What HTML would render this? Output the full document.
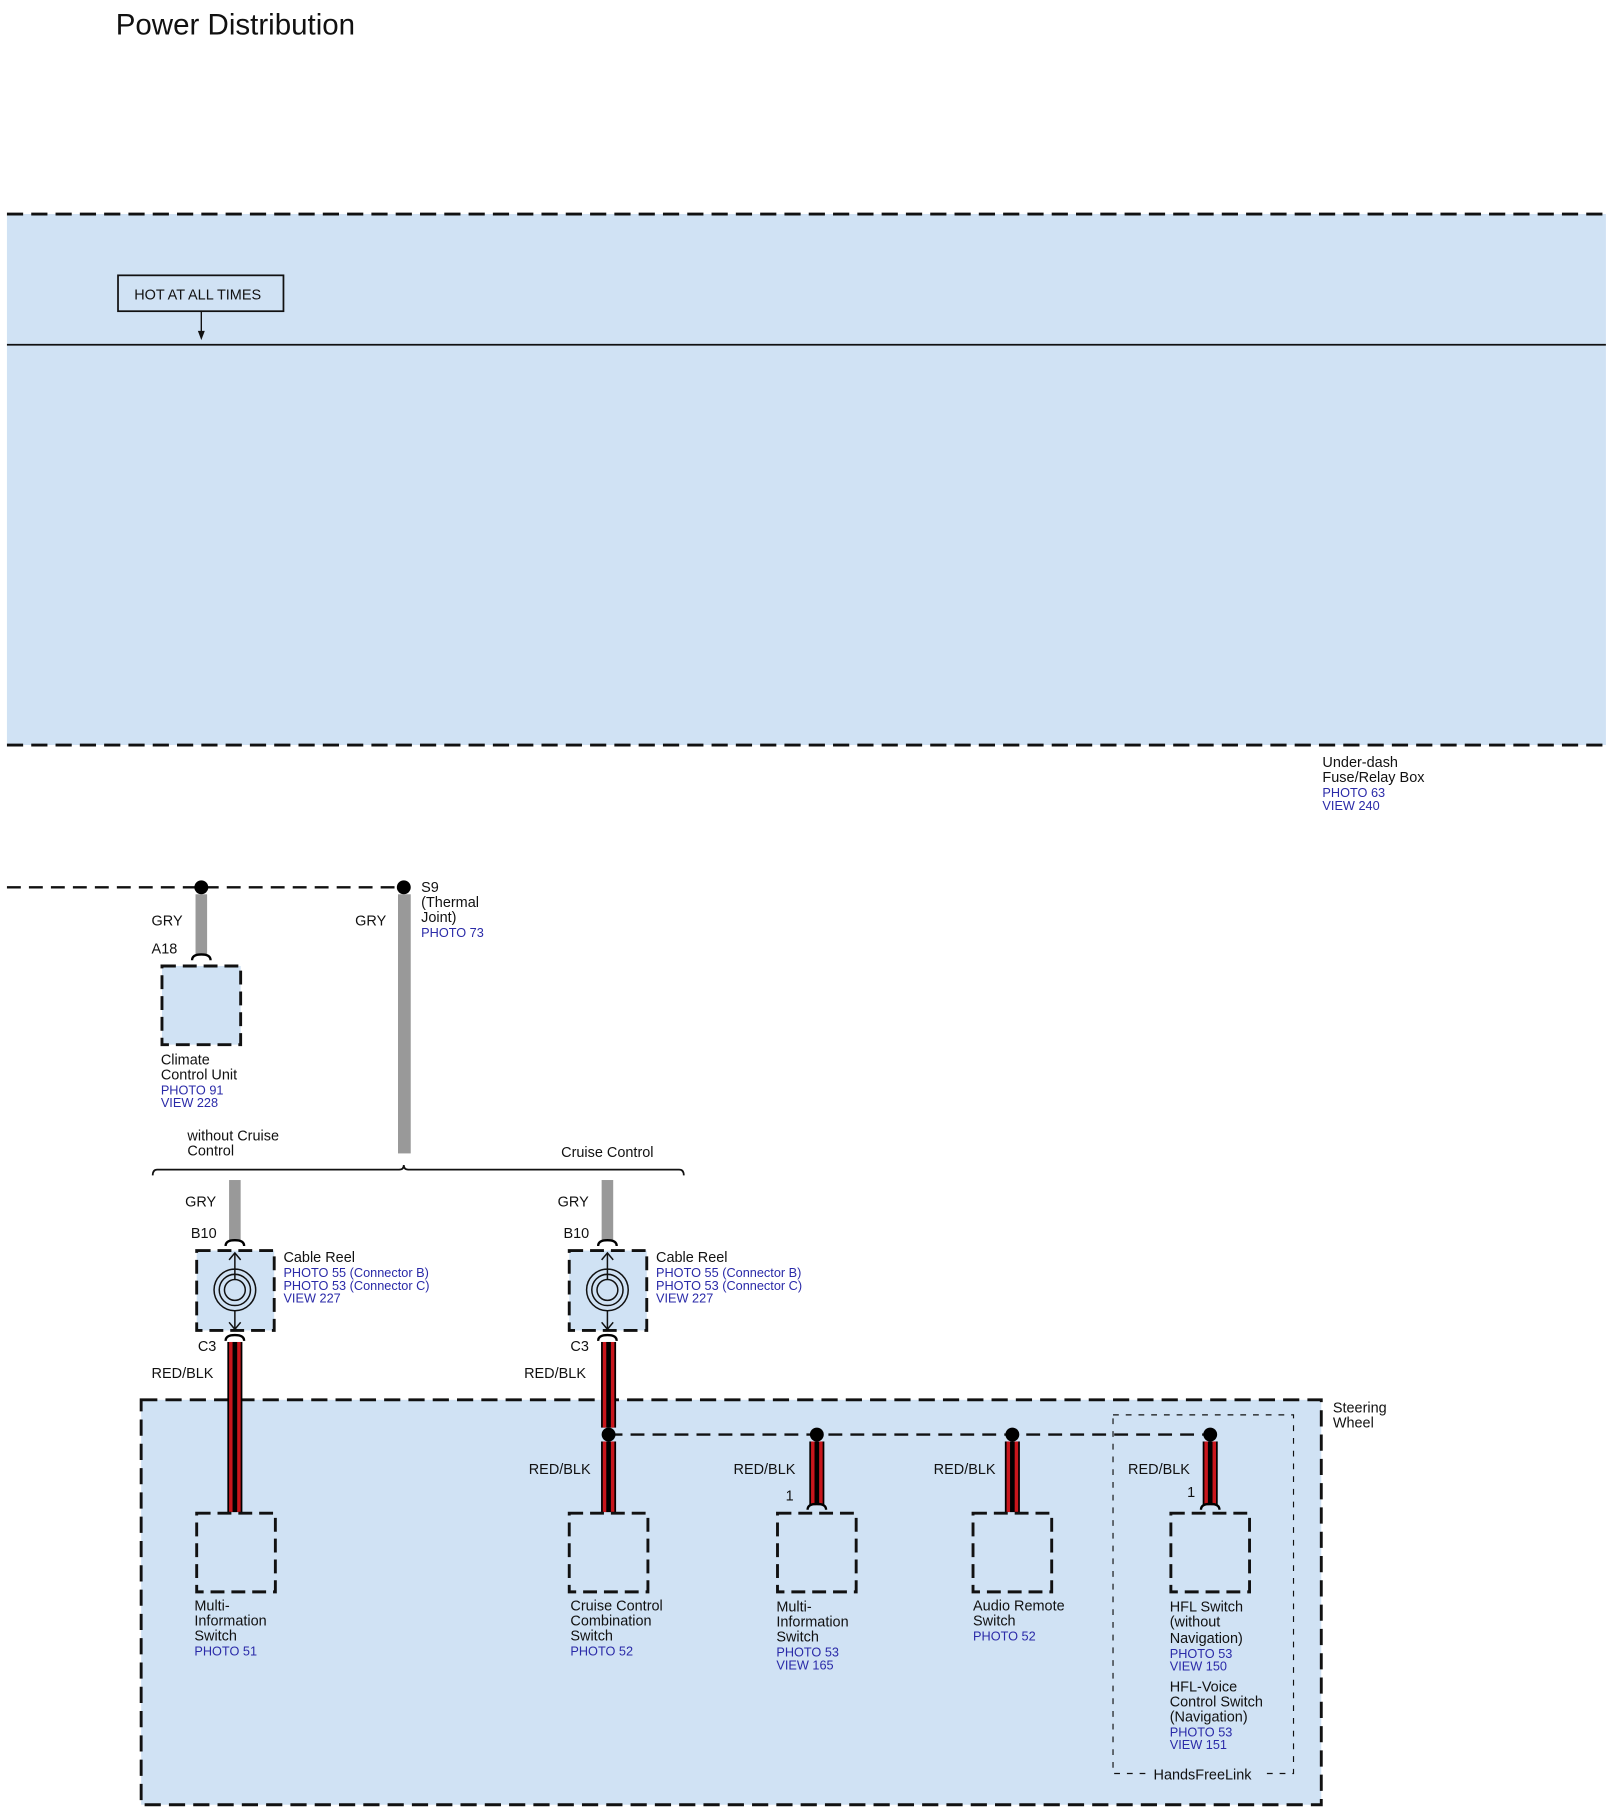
<!DOCTYPE html>
<html><head><meta charset="utf-8"><style>
html,body{margin:0;padding:0;background:#fff;}
svg{display:block;}
text{font-family:"Liberation Sans",sans-serif;font-size:12.5px;fill:#111;}
.b{fill:#2a2aa8;font-size:11px;}
</style></head><body>
<svg width="1614" height="1814" viewBox="0 0 1395 1568" preserveAspectRatio="none" xmlns="http://www.w3.org/2000/svg">
<text x="100" y="30" style="font-size:25.5px">Power Distribution</text>

<rect x="6" y="185" width="1382" height="459" fill="#d0e2f4"/>
<line x1="6" y1="185" x2="1388" y2="185" stroke="#111" stroke-width="2.5" stroke-dasharray="14 7"/>
<line x1="6" y1="644" x2="1388" y2="644" stroke="#111" stroke-width="2.5" stroke-dasharray="14 7"/>
<line x1="6" y1="298" x2="1388" y2="298" stroke="#111" stroke-width="1.5"/>
<rect x="102" y="238" width="143" height="31" fill="#d0e2f4" stroke="#111" stroke-width="1.5"/>
<text x="116" y="259">HOT AT ALL TIMES</text>
<line x1="174" y1="269" x2="174" y2="288" stroke="#111" stroke-width="1.2"/>
<polygon points="171,286 177,286 174,294" fill="#111"/>
<text x="1143" y="663">Under-dash</text>
<text x="1143" y="676">Fuse/Relay Box</text>
<text class="b" x="1143" y="689">PHOTO 63</text>
<text class="b" x="1143" y="700">VIEW 240</text>

<line x1="6" y1="767" x2="349" y2="767" stroke="#111" stroke-width="2" stroke-dasharray="12 7"/>
<rect x="169" y="773" width="10" height="53" fill="#999"/>
<rect x="344" y="773" width="11" height="224" fill="#999"/>
<circle cx="174" cy="767" r="6" fill="#000"/>
<circle cx="349" cy="767" r="6" fill="#000"/>
<text x="131" y="800">GRY</text>
<text x="307" y="800">GRY</text>
<text x="131" y="824">A18</text>
<text x="364" y="771">S9</text>
<text x="364" y="784">(Thermal</text>
<text x="364" y="797">Joint)</text>
<text class="b" x="364" y="810">PHOTO 73</text>
<path d="M166,830 Q166,825 174,825 Q182,825 182,830" fill="none" stroke="#000" stroke-width="2"/>
<rect x="140" y="835" width="68" height="68" fill="#d0e2f4" stroke="#111" stroke-width="2.5" stroke-dasharray="12 6"/>
<text x="139" y="920">Climate</text>
<text x="139" y="933">Control Unit</text>
<text class="b" x="139" y="946">PHOTO 91</text>
<text class="b" x="139" y="957">VIEW 228</text>

<path d="M132,1016 Q132,1011 136,1011 L345,1011 Q349,1011 349,1007 Q349,1011 353,1011 L587,1011 Q591,1011 591,1016" fill="none" stroke="#111" stroke-width="1.5"/>
<text x="162" y="986">without Cruise</text>
<text x="162" y="999">Control</text>
<text x="485" y="1000">Cruise Control</text>

<g id="reel1">
<rect x="198" y="1020" width="10" height="53" fill="#999"/>
<path d="M195,1077 Q195,1072 203,1072 Q211,1072 211,1077" fill="none" stroke="#000" stroke-width="2"/>
<rect x="170" y="1081" width="67" height="69" fill="#d0e2f4" stroke="#111" stroke-width="2.5" stroke-dasharray="12 6"/>
<circle cx="203" cy="1115" r="18" fill="none" stroke="#111" stroke-width="1.3"/>
<circle cx="203" cy="1115" r="13.5" fill="none" stroke="#111" stroke-width="1.3"/>
<circle cx="203" cy="1115" r="9" fill="none" stroke="#111" stroke-width="1.3"/>
<line x1="203" y1="1083" x2="203" y2="1106" stroke="#111" stroke-width="1.3"/>
<line x1="203" y1="1133" x2="203" y2="1149" stroke="#111" stroke-width="1.3"/>
<path d="M198,1089 L203,1083 L208,1089 M198,1143 L203,1149 L208,1143" fill="none" stroke="#111" stroke-width="1.3"/>
<path d="M195,1159 Q195,1154 203,1154 Q211,1154 211,1159" fill="none" stroke="#000" stroke-width="2"/>
<text x="160" y="1043">GRY</text>
<text x="165" y="1070">B10</text>
<text x="171" y="1168">C3</text>
<text x="131" y="1191">RED/BLK</text>
<text x="245" y="1091">Cable Reel</text>
<text class="b" x="245" y="1104">PHOTO 55 (Connector B)</text>
<text class="b" x="245" y="1115">PHOTO 53 (Connector C)</text>
<text class="b" x="245" y="1126">VIEW 227</text>
</g>
<use href="#reel1" transform="translate(322,0)"/>

<rect x="122" y="1210" width="1020" height="350" fill="#d0e2f4" stroke="#111" stroke-width="2.5" stroke-dasharray="14 7"/>
<text x="1152" y="1221">Steering</text>
<text x="1152" y="1234">Wheel</text>
<rect x="962" y="1223" width="156" height="310" fill="none" stroke="#111" stroke-width="1" stroke-dasharray="5 6"/>
<rect x="990" y="1526" width="100" height="16" fill="#d0e2f4"/>
<text x="997" y="1538">HandsFreeLink</text>

<g fill="#000">
<rect x="196.5" y="1160" width="13" height="147"/>
<rect x="519.5" y="1160" width="13" height="74"/>
<rect x="519.5" y="1246" width="13" height="61"/>
<rect x="699.5" y="1246" width="13" height="55"/>
<rect x="868.5" y="1246" width="13" height="61"/>
<rect x="1039.5" y="1246" width="13" height="55"/>
</g>
<g fill="#c8161c">
<rect x="198" y="1160" width="10" height="147"/>
<rect x="521" y="1160" width="10" height="74"/>
<rect x="521" y="1246" width="10" height="61"/>
<rect x="701" y="1246" width="10" height="55"/>
<rect x="870" y="1246" width="10" height="61"/>
<rect x="1041" y="1246" width="10" height="55"/>
</g>
<g fill="#000">
<rect x="201" y="1160" width="4" height="147"/>
<rect x="524" y="1160" width="4" height="74"/>
<rect x="524" y="1246" width="4" height="61"/>
<rect x="704" y="1246" width="4" height="55"/>
<rect x="873" y="1246" width="4" height="61"/>
<rect x="1044" y="1246" width="4" height="55"/>
</g>
<line x1="526" y1="1240" x2="1046" y2="1240" stroke="#111" stroke-width="2" stroke-dasharray="12 7"/>
<circle cx="526" cy="1240" r="6" fill="#000"/>
<circle cx="706" cy="1240" r="6" fill="#000"/>
<circle cx="875" cy="1240" r="6" fill="#000"/>
<circle cx="1046" cy="1240" r="6" fill="#000"/>
<path d="M698,1305 Q698,1300 706,1300 Q714,1300 714,1305" fill="none" stroke="#000" stroke-width="2"/>
<path d="M1038,1305 Q1038,1300 1046,1300 Q1054,1300 1054,1305" fill="none" stroke="#000" stroke-width="2"/>
<text x="457" y="1274">RED/BLK</text>
<text x="634" y="1274">RED/BLK</text>
<text x="807" y="1274">RED/BLK</text>
<text x="975" y="1274">RED/BLK</text>
<text x="679" y="1297">1</text>
<text x="1026" y="1294">1</text>

<g fill="none" stroke="#111" stroke-width="2.5" stroke-dasharray="12 6">
<rect x="170" y="1308" width="68" height="68"/>
<rect x="492" y="1308" width="68" height="68"/>
<rect x="672" y="1308" width="68" height="68"/>
<rect x="841" y="1308" width="68" height="68"/>
<rect x="1012" y="1308" width="68" height="68"/>
</g>
<text x="168" y="1392">Multi-</text>
<text x="168" y="1405">Information</text>
<text x="168" y="1418">Switch</text>
<text class="b" x="168" y="1431">PHOTO 51</text>
<text x="493" y="1392">Cruise Control</text>
<text x="493" y="1405">Combination</text>
<text x="493" y="1418">Switch</text>
<text class="b" x="493" y="1431">PHOTO 52</text>
<text x="671" y="1393">Multi-</text>
<text x="671" y="1406">Information</text>
<text x="671" y="1419">Switch</text>
<text class="b" x="671" y="1432">PHOTO 53</text>
<text class="b" x="671" y="1443">VIEW 165</text>
<text x="841" y="1392">Audio Remote</text>
<text x="841" y="1405">Switch</text>
<text class="b" x="841" y="1418">PHOTO 52</text>
<text x="1011" y="1393">HFL Switch</text>
<text x="1011" y="1406">(without</text>
<text x="1011" y="1420">Navigation)</text>
<text class="b" x="1011" y="1433">PHOTO 53</text>
<text class="b" x="1011" y="1444">VIEW 150</text>
<text x="1011" y="1462">HFL-Voice</text>
<text x="1011" y="1475">Control Switch</text>
<text x="1011" y="1488">(Navigation)</text>
<text class="b" x="1011" y="1501">PHOTO 53</text>
<text class="b" x="1011" y="1512">VIEW 151</text>
</svg>
</body></html>
